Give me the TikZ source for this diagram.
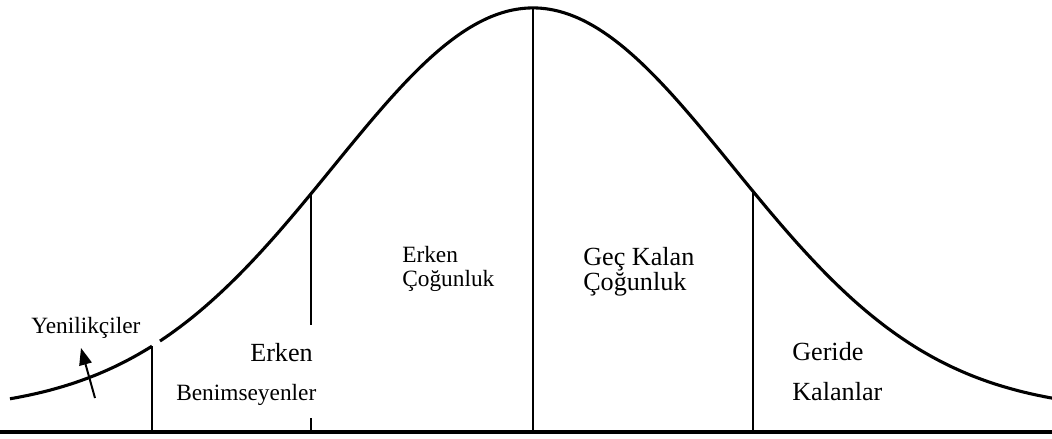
\documentclass[tikz,border=0pt]{standalone}
\usepackage{fontspec}
\setmainfont{Liberation Serif}
\usetikzlibrary{positioning, arrows.meta}

\begin{document}
\begin{tikzpicture}[
    x=0.025cm, y=-0.025cm,
    declare function={bell(\t)=412-404*exp(-(((\t-533)/200)^2)/2);},
    curve/.style={line width=2.2pt, line join=round},
    divider/.style={line width=1.9pt},
    base/.style={line width=2.6pt},
    lbl/.style={font=\fontsize{16.6}{20}\selectfont, inner sep=0pt, anchor=base west},
    lblbig/.style={font=\fontsize{18.6}{22}\selectfont, inner sep=0pt, anchor=base west},
    arr/.style={-{Triangle[length=12pt, width=9pt]}, line width=1.4pt},
]
\useasboundingbox (0,0) rectangle (1052,439);

% bell curve (small gap at the first divider)
\draw[curve] plot[domain=10:152, samples=40, smooth] (\x, {bell(\x)});
\draw[curve] plot[domain=160:1052, samples=160, smooth] (\x, {bell(\x)});

% base line
\coordinate (baseL) at (0,432);
\coordinate (baseR) at (1052,432);
\draw[base] (baseL) -- (baseR);

% dividers
\coordinate (innTop) at (152,{bell(152)});
\coordinate (innBot) at (152,432);
\coordinate (ebTop) at (311,{bell(311)});
\coordinate (ebMid) at (311,325);
\coordinate (ebStub) at (311,418);
\coordinate (ebBot) at (311,432);
\coordinate (peak) at (533,8);
\coordinate (peakBot) at (533,432);
\coordinate (lmTop) at (753,{bell(753)});
\coordinate (lmBot) at (753,432);

\draw[divider] (innTop) -- (innBot);
\draw[divider] (ebTop) -- (ebMid);
\draw[divider] (ebStub) -- (ebBot);
\draw[divider] (peak) -- (peakBot);
\draw[divider] (lmTop) -- (lmBot);

% labels
\node[lbl] (innov) at (31,333) {Yenilikçiler};
\node[lblbig] (early1) at (250,361) {Erken};
\node[lbl] (early2) at (176,400) {Benimseyenler};
\node[lbl] (emaj1) at (402,262) {Erken};
\node[lbl] (emaj2) at (402,286) {Çoğunluk};
\node[lblbig] (lmaj1) at (583,265) {Geç Kalan};
\node[lblbig] (lmaj2) at (583,290) {Çoğunluk};
\node[lblbig] (lag1) at (792,360) {Geride};
\node[lblbig] (lag2) at (792,400) {Kalanlar};

% arrow to innovators
\coordinate (arrTail) at (95,398);
\coordinate (arrTip) at (81,348);
\draw[arr] (arrTail) -- (arrTip);
\end{tikzpicture}
\end{document}
